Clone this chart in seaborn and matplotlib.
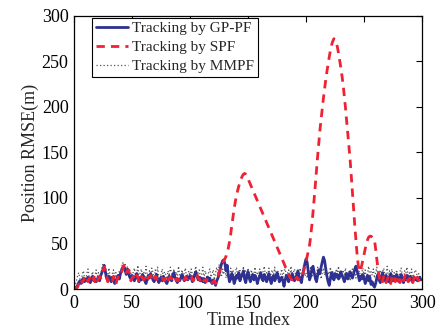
import numpy as np
import pandas as pd
import matplotlib
matplotlib.use("Agg")
import matplotlib.pyplot as plt
import seaborn as sns

gp_pf = [
    0,1,2,4,7,9,6,10,12,8,11,9,13,10,7,12,14,9,11,8,
    10,13,9,15,18,22,26,19,12,9,14,11,8,13,10,6,9,12,15,11,
    17,21,24,25,20,16,22,18,13,11,15,12,9,14,17,11,8,12,10,16,
    13,9,6,11,15,12,17,14,10,8,12,16,11,7,10,13,9,14,11,8,
    6,10,14,12,9,15,18,13,10,7,11,9,12,16,13,9,11,14,10,12,
    15,12,8,11,16,19,14,10,13,9,12,8,11,7,10,13,9,12,8,6,
    10,7,4,9,12,16,22,27,31,32,28,20,26,15,8,11,17,13,6,10,
    15,12,18,9,13,16,20,11,7,14,19,12,8,13,16,10,15,12,6,11,
    14,18,11,9,16,13,8,12,17,10,6,13,15,9,12,18,14,8,11,13,
    9,3,10,15,12,8,14,11,17,13,9,12,16,20,14,10,7,15,22,28,
    33,29,18,10,14,22,25,18,12,8,15,21,17,24,30,35,31,22,14,8,
    4,12,18,15,10,17,13,16,11,14,19,15,12,8,13,17,11,15,19,14,
    12,17,22,25,20,15,9,14,11,16,12,6,10,15,9,13,5,8,4,2,
    6,12,16,10,7,14,18,12,9,15,11,8,13,17,12,9,14,10,16,13,
    8,12,16,11,7,13,10,15,12,9,14,11,8,13,10,12,9,11,13,10,
]

spf = [
    0,0,1,2,5,8,11,7,9,13,10,12,8,11,14,9,10,13,8,12,
    9,11,14,12,16,20,24,21,15,8,11,13,10,9,14,8,5,10,13,12,
    14,19,22,26,23,18,20,21,15,9,12,14,11,10,15,13,7,10,14,12,
    10,12,8,9,13,14,15,12,8,11,14,13,9,10,12,11,12,10,9,13,
    9,8,12,13,11,13,15,14,9,10,9,12,14,13,11,10,13,12,9,10,
    13,14,10,9,13,17,16,12,11,8,10,12,9,10,8,12,11,10,9,7,
    8,9,6,11,14,18,22,26,29,31,
    33,36,40,45,52,60,70,79,88,96,
    102,108,113,117,121,124,126,127,
    126,124,121,118,115,112,109,106,103,100,97,94,91,88,85,82,79,76,73,70,
    67,64,61,58,55,52,49,46,43,40,37,34,31,28,25,22,19,16,13,
    11,10,12,9,11,13,10,12,14,13,
    16,20,25,30,36,42,48,
    58,70,84,99,115,130,146,161,175,
    187,199,210,220,230,239,247,255,262,268,272,275,
    274,271,
    266,259,251,243,234,224,212,199,185,171,157,142,124,105,87,70,54,
    38,26,19,21,26,32,38,44,49,
    54,57,58,58,57,56,54,
    44,33,22,14,9,
    12,8,15,11,7,10,14,9,6,13,16,11,8,12,15,10,7,11,14,9,
    13,17,12,8,10,14,11,7,12,15,10,13,9,11,10,
]

mmpf = [
    2,5,9,14,18,11,7,16,20,12,9,17,22,13,8,15,19,10,14,21,
    12,18,9,16,24,28,20,14,19,11,23,15,8,17,21,12,18,9,14,20,
    16,24,29,22,27,18,25,14,21,17,10,19,23,13,16,26,11,18,22,14,
    19,12,25,16,9,20,14,23,18,11,21,15,24,13,8,17,22,12,19,16,
    11,20,14,24,17,9,22,15,19,12,25,16,10,21,14,18,23,11,17,20,
    14,22,16,9,19,25,13,18,21,11,16,24,12,20,15,8,19,22,13,17,
    21,10,18,24,15,27,19,13,22,16,25,12,20,17,9,23,15,21,11,18,
    24,14,19,22,12,17,25,10,20,15,23,13,18,21,9,16,24,12,19,14,
    22,17,11,20,25,13,18,15,23,10,19,21,14,24,12,17,20,9,16,22,
    13,19,24,11,17,21,14,25,10,18,22,15,12,20,16,23,11,19,24,14,
    18,12,21,16,25,13,19,22,10,17,24,14,20,11,18,23,15,21,12,19,
    16,24,11,20,17,13,22,18,25,10,19,15,21,14,23,12,17,20,9,18,
    22,15,19,12,24,16,20,11,18,23,14,21,9,17,25,13,19,15,22,12,
    18,24,10,16,21,14,19,23,12,17,25,11,20,15,22,13,18,9,21,16,
    12,19,23,15,10,20,17,24,13,18,14,22,11,16,21,19,13,17,15,12,
]

labels = ["Tracking by GP-PF", "Tracking by SPF", "Tracking by MMPF"]
x_ticks = [0, 50, 100, 150, 200, 250, 300]
y_ticks = [0, 50, 100, 150, 200, 250, 300]

sns.set_theme(style="white")
plt.rcParams["font.family"] = ["Liberation Serif", "DejaVu Serif"]

t = np.arange(len(gp_pf))
df = pd.DataFrame({
    "t": np.concatenate([t, t, t]),
    "v": np.concatenate([gp_pf, spf, mmpf]),
    "s": [labels[0]] * len(t) + [labels[1]] * len(t) + [labels[2]] * len(t),
})

fig = plt.figure(figsize=(4.41, 3.32), dpi=100)
ax = fig.add_axes([0.168, 0.1295, 0.957 - 0.168, 0.952 - 0.1295])

styles = {
    labels[0]: dict(color="#2e3192", lw=2.0, ls="-"),
    labels[1]: dict(color="#ee2233", lw=2.0, ls=(0, (3, 2.2))),
    labels[2]: dict(color="#555555", lw=0.9, ls=(0, (1, 1.8))),
}
for lab in [labels[2], labels[0], labels[1]]:
    sub = df[df["s"] == lab]
    st = styles[lab]
    sns.lineplot(data=sub, x="t", y="v", ax=ax, color=st["color"], lw=st["lw"],
                 linestyle=st["ls"], label=lab, legend=False)

ax.set_xlim(0, 300)
ax.set_ylim(0, 300)
ax.set_xticks(x_ticks)
ax.set_yticks(y_ticks)
ax.tick_params(direction="in", length=4, width=0.8, labelsize=13, top=True, right=True,
               colors="black", pad=4)
for sp in ax.spines.values():
    sp.set_color("black")
    sp.set_linewidth(0.9)
ax.set_xlabel("Time Index", fontsize=13, labelpad=0)
ax.set_ylabel("Position RMSE(m)", fontsize=13, labelpad=2)

handles, labs = ax.get_legend_handles_labels()
order = [labs.index(l) for l in labels]
leg = ax.legend([handles[i] for i in order], [labs[i] for i in order],
                loc="upper left", bbox_to_anchor=(0.052, 0.993), fontsize=11,
                frameon=True, fancybox=False, shadow=False, framealpha=1,
                edgecolor="black", borderpad=0.25, labelspacing=0.35,
                handlelength=2.1, handletextpad=0.25, borderaxespad=0)
leg.get_frame().set_linewidth(0.8)

fig.savefig("out.png", dpi=100)
